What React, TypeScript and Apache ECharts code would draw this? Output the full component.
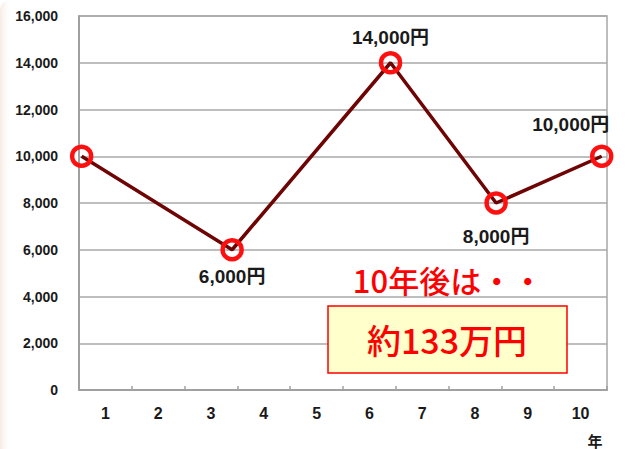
import React, { useEffect, useRef } from "react";
import * as echarts from "echarts";

const years = ["1", "2", "3", "4", "5", "6", "7", "8", "9", "10"];
const pointX = [0.05, 2.9, 5.9, 7.9, 9.9];
const pointY = [10000, 6000, 14000, 8000, 10000];
const pointLabels = ["", "6,000円", "14,000円", "8,000円", "10,000円"];
const labelPos = ["top", "bottom", "top", "bottom", "top"];
const labelDist = [5, 5, 4, 12, 11];
const labelOffset = [[0, 0], [0, 0], [0, 0], [0, 0], [-31, 0]];
const yMin = 0;
const yMax = 16000;
const yStep = 2000;
const headline = "10年後は・・";
const resultText = "約133万円";
const xAxisTitle = "年";

const JP = "'Liberation Sans', Arial, 'Noto Sans CJK JP', sans-serif";

export default function App() {
  const ref = useRef<HTMLDivElement>(null);
  useEffect(() => {
    if (!ref.current) return;
    const chart = echarts.init(ref.current, null, { renderer: "svg" });
    const data = pointX.map((x, i) => ({
      value: [x, pointY[i]],
      label: {
        show: pointLabels[i] !== "",
        formatter: pointLabels[i],
        position: labelPos[i],
        distance: labelDist[i],
        offset: labelOffset[i],
      },
    }));
    chart.setOption({
      animation: false,
      backgroundColor: "#ffffff",
      grid: {
        left: 79,
        top: 16,
        right: 21,
        bottom: 59,
        show: true,
        borderColor: "#a8a8a8",
        borderWidth: 1.5,
        backgroundColor: "transparent",
      },
      xAxis: [
        {
          type: "category",
          data: years,
          boundaryGap: true,
          axisLine: { lineStyle: { color: "#a0a0a0", width: 2 } },
          axisTick: { show: true, inside: true, length: 4, lineStyle: { color: "#a0a0a0", width: 1.5 } },
          axisLabel: {
            color: "#1a1a1a",
            fontWeight: "bold",
            fontSize: 16,
            fontFamily: JP,
            margin: 15,
          },
          splitLine: { show: false },
        },
        {
          type: "value",
          min: 0,
          max: 10,
          show: false,
          position: "bottom",
        },
      ],
      yAxis: {
        type: "value",
        min: yMin,
        max: yMax,
        interval: yStep,
        axisLine: { show: true, lineStyle: { color: "#a0a0a0", width: 2 } },
        axisTick: { show: false },
        axisLabel: {
          color: "#1a1a1a",
          fontWeight: "bold",
          fontSize: 14,
          fontFamily: JP,
          margin: 21,
          formatter: (v: number) => v.toLocaleString("en-US"),
        },
        splitLine: { lineStyle: { color: "#a8a8a8", width: 1.5 } },
      },
      series: [
        {
          type: "line",
          xAxisIndex: 1,
          data,
          lineStyle: { color: "#6e0404", width: 3.5 },
          symbol: "circle",
          symbolSize: 19,
          itemStyle: { color: "rgba(0,0,0,0)", borderColor: "#ff1010", borderWidth: 4.5 },
          label: {
            color: "#1a1a1a",
            fontWeight: "bold",
            fontSize: 19,
            fontFamily: JP,
          },
          z: 5,
        },
      ],
      graphic: [
        {
          type: "rect",
          left: 0,
          top: 0,
          shape: { width: 12, height: 449, r: [10, 0, 0, 0] },
          style: {
            fill: new echarts.graphic.LinearGradient(0, 0, 1, 0, [
              { offset: 0, color: "#f6ebe3" },
              { offset: 1, color: "rgba(255,255,255,0)" },
            ]),
          },
          z: -1,
        },
        {
          type: "text",
          x: 448,
          y: 279,
          style: {
            text: headline,
            fill: "#ff0000",
            font: "500 31px 'Noto Sans CJK JP'",
            align: "center",
            verticalAlign: "middle",
          },
          z: 10,
        },
        {
          type: "rect",
          shape: { x: 328, y: 306, width: 239, height: 67 },
          style: { fill: "#ffffcc", stroke: "#ff0000", lineWidth: 1.5 },
          z: 10,
        },
        {
          type: "text",
          x: 447,
          y: 339,
          style: {
            text: resultText,
            fill: "#ff0000",
            font: "500 34px 'Noto Sans CJK JP'",
            align: "center",
            verticalAlign: "middle",
          },
          z: 11,
        },
        {
          type: "text",
          x: 595,
          y: 440,
          style: {
            text: xAxisTitle,
            fill: "#1a1a1a",
            font: "bold 15px 'Noto Sans CJK JP'",
            align: "center",
            verticalAlign: "middle",
          },
          z: 10,
        },
      ],
    });
    return () => chart.dispose();
  }, []);
  return (
    <div
      ref={ref}
      style={{ position: "fixed", left: 0, top: 0, width: 628, height: 449 }}
    />
  );
}
